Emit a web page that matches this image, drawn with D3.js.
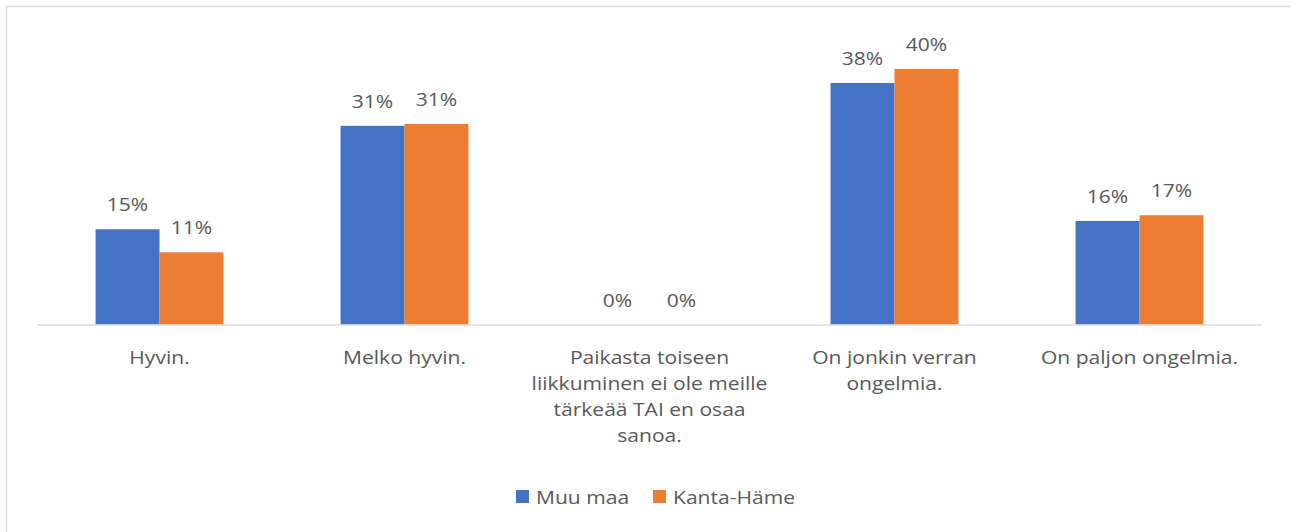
<!DOCTYPE html>
<html><head><meta charset="utf-8">
<script src="https://cdn.jsdelivr.net/npm/d3@7"></script>
<style>
html,body{margin:0;padding:0;background:#fff;}
text{font-family:"Open Sans","Liberation Sans",sans-serif;fill:#595959;}
</style></head>
<body><svg id="c" width="1291" height="532"></svg>
<script>
const categories = [
  ["Hyvin."],
  ["Melko hyvin."],
  ["Paikasta toiseen","liikkuminen ei ole meille","tärkeää TAI en osaa","sanoa."],
  ["On jonkin verran","ongelmia."],
  ["On paljon ongelmia."]
];
const seriesNames = ["Muu maa","Kanta-Häme"];
const muuMaa = [0.149, 0.311, 0, 0.378, 0.162];
const kantaHame = [0.113, 0.314, 0, 0.400, 0.171];
const colors = ["#4472C4","#ED7D31"];

(function(){
const SX = 1.17;
const svg = d3.select("#c");
svg.append("rect").attr("x",6.5).attr("y",6.5).attr("width",1290).attr("height",530)
  .attr("fill","none").attr("stroke","#d9d9d9").attr("stroke-width",1.5);

const pLeft=37, pRight=1262, base=324.5, pTop=37;
const idx = d3.range(categories.length);
const x = d3.scaleBand().domain(idx).range([pLeft,pRight]).paddingInner(0.478).paddingOuter(0.239);
const sub = d3.scaleBand().domain([0,1]).range([0,x.bandwidth()]);
const y = d3.scaleLinear().domain([0,0.45]).range([base,pTop]);

function stretched(px, py){
  return svg.append("g").attr("transform",`translate(${px},${py}) scale(${SX},1)`);
}

const data = [muuMaa,kantaHame];
data.forEach((vals,s)=>{
  svg.append("g").selectAll("rect").data(vals).join("rect")
    .attr("x",(d,i)=>x(i)+sub(s)).attr("width",sub.bandwidth())
    .attr("y",d=>y(d)).attr("height",d=>base-y(d)).attr("fill",colors[s]);
  vals.forEach((d,i)=>{
    stretched(x(i)+sub(s)+sub.bandwidth()/2, y(d)-18).append("text")
      .attr("text-anchor","middle").attr("font-size",18)
      .text(d3.format(".0%")(d));
  });
});

svg.append("line").attr("x1",pLeft).attr("x2",pRight).attr("y1",base+0.5).attr("y2",base+0.5)
  .attr("stroke","#d9d9d9").attr("stroke-width",1.5);

categories.forEach((lines,i)=>{
  const t = stretched(x(i)+x.bandwidth()/2, 364).append("text").attr("text-anchor","middle").attr("font-size",18);
  lines.forEach((ln,j)=>{
    t.append("tspan").attr("x",0).attr("y",j*26).text(ln);
  });
});

const legend = [{x:516,tx:536},{x:653,tx:673}];
seriesNames.forEach((n,s)=>{
  svg.append("rect").attr("x",legend[s].x).attr("y",490).attr("width",13).attr("height",13).attr("fill",colors[s]);
  stretched(legend[s].tx, 504).append("text").attr("font-size",18).text(n);
});
})();
</script></body></html>
